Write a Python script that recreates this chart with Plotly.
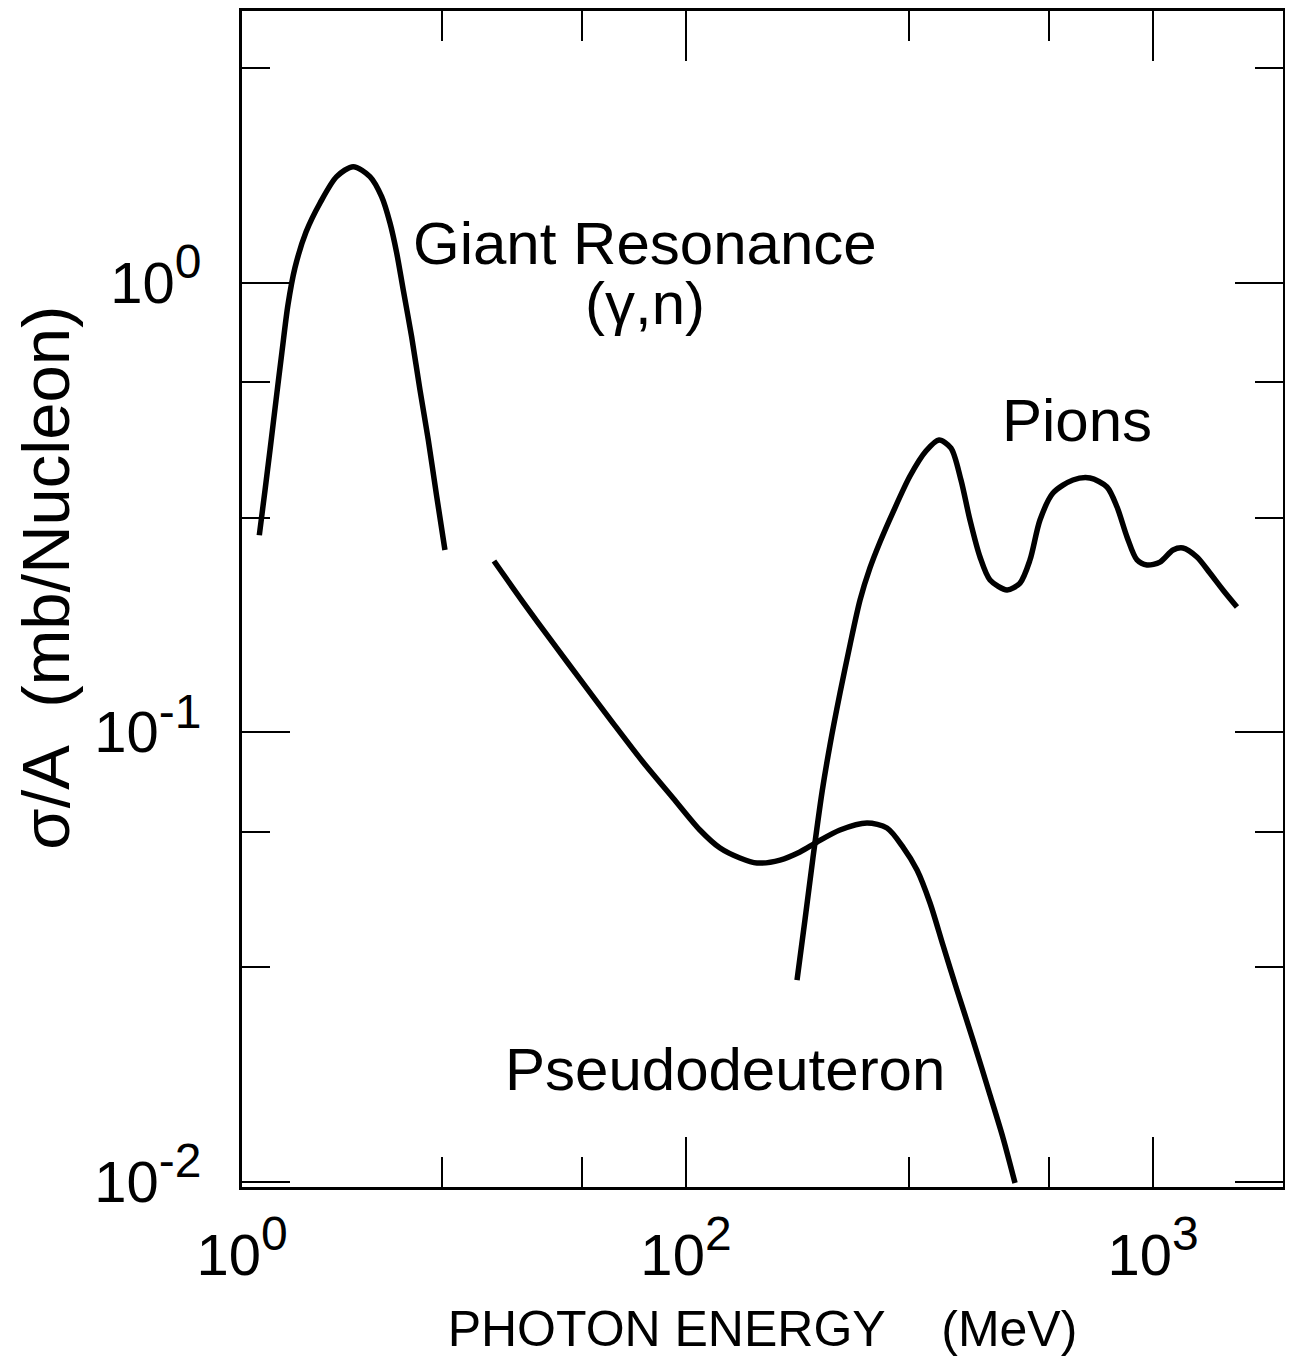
import plotly.graph_objects as go

# ---- data (photon energy in MeV, sigma/A in mb/nucleon) ----
giant_E = [12.2, 12.55, 12.86, 13.25, 13.64, 14.05, 14.54, 15.36, 16.46, 17.86, 19.39,
           21.05, 22.30, 23.24, 24.02, 24.81, 25.85, 26.94, 28.07, 29.26, 30.47]
giant_sigma = [0.274, 0.3454, 0.4239, 0.5478, 0.7005, 0.8911, 1.077, 1.295, 1.503, 1.72, 1.81,
               1.72, 1.552, 1.356, 1.163, 0.962, 0.758, 0.577, 0.446, 0.334, 0.254]

pseudo_E = [38.8, 44.77, 51.9, 60.17, 69.78, 80.89, 93.8, 107.1, 118.3, 130.5, 141.9,
            159.0, 175.4, 190.8, 213.7, 244.1, 269.4, 291.5, 312.4, 333.1, 355.0,
            380.4, 411.8, 447.7, 477.4, 506.5]
pseudo_sigma = [0.2401, 0.1946, 0.1578, 0.1285, 0.1047, 0.08576, 0.07133, 0.06053, 0.05519,
                0.05245, 0.05112, 0.0519, 0.05408, 0.05691, 0.06053, 0.06274, 0.06115,
                0.05547, 0.04932, 0.04165, 0.03358, 0.02667, 0.02064, 0.01558, 0.0125,
                0.009924]

pion_E = [172.9, 179.8, 187.0, 195.6, 203.4, 213.7, 224.5, 235.9, 247.7, 260.3, 277.6,
          301.8, 326.5, 348.2, 369.4, 388.0, 405.6, 426.2, 447.7, 486.9, 519.1, 545.3,
          572.8, 610.7, 674.1, 733.1, 797.1, 837.6, 879.8, 924.2, 970.9, 1035, 1104,
          1159, 1242, 1324, 1412, 1513]
pion_sigma = [0.02807, 0.03818, 0.05245, 0.07354, 0.09357, 0.1221, 0.1562, 0.1966, 0.2317,
              0.2647, 0.3086, 0.3711, 0.4218, 0.4463, 0.4283, 0.3636, 0.2962, 0.2451,
              0.2179, 0.2070, 0.2145, 0.2414, 0.2962, 0.3401, 0.3636, 0.3673, 0.3508,
              0.3166, 0.2716, 0.2414, 0.2352, 0.2388, 0.2541, 0.2567, 0.2451, 0.2258,
              0.2070, 0.1897]

SUP = '<sup><span style="font-size:48px">{}</span></sup>'
x_major_vals = [11.21, 100, 1000]
x_major_text = ["10" + SUP.format("0"), "10" + SUP.format("2"), "10" + SUP.format("3")]
x_minor_vals = [30, 60, 300, 600]
y_major_vals = [1, 0.1, 0.01]
y_major_text = ["10" + SUP.format("0"), "10" + SUP.format("-1"), "10" + SUP.format("-2")]
y_minor_vals = [3, 0.6, 0.3, 0.06, 0.03]

labels = ["Giant Resonance", "(\u03b3,n)", "Pions", "Pseudodeuteron"]
y_title = "\u03c3/A\u00a0\u00a0(mb/Nucleon)"
x_title = "PHOTON ENERGY\u00a0\u00a0\u00a0\u00a0(MeV)"

FONT = "Liberation Sans, Arial, Helvetica, sans-serif"
line_style = dict(color="black", width=5.5, shape="spline", smoothing=0.8)

fig = go.Figure()
for xs, ys in [(giant_E, giant_sigma), (pseudo_E, pseudo_sigma), (pion_E, pion_sigma)]:
    fig.add_trace(go.Scatter(x=xs, y=ys, mode="lines", line=line_style,
                             showlegend=False, hoverinfo="skip"))

axis_common = dict(
    showgrid=False, zeroline=False, showline=True, linecolor="black", linewidth=3,
    mirror="allticks", ticks="inside", tickcolor="black", tickwidth=2,
    tickmode="array", tickfont=dict(family=FONT, size=58, color="black"),
)

fig.update_xaxes(
    type="log", range=[1.0493, 3.2784],
    tickvals=x_major_vals, ticktext=x_major_text, ticklen=50,
    minor=dict(tickmode="array", tickvals=x_minor_vals, ticks="inside",
               ticklen=30, tickwidth=2, tickcolor="black"),
    title=dict(text=x_title, font=dict(family=FONT, size=50, color="black"), standoff=26),
    ticklabelstandoff=15,
    **axis_common,
)
fig.update_yaxes(
    type="log", range=[-2.0122, 0.604],
    tickvals=y_major_vals, ticktext=y_major_text, ticklen=48,
    minor=dict(tickmode="array", tickvals=y_minor_vals, ticks="inside",
               ticklen=28, tickwidth=2, tickcolor="black"),
    ticklabelstandoff=26,
    **axis_common,
)

# y-axis title placed as a rotated annotation (paper coordinates)
fig.add_annotation(text=y_title, x=-0.1885, y=0.5179, xref="paper", yref="paper",
                   textangle=-90, showarrow=False, xanchor="center", yanchor="middle",
                   font=dict(family=FONT, size=67, color="black"))

ann_font = dict(family=FONT, size=60, color="black")
ann_pos = [(0.3871, 0.8025), (0.3871, 0.7515), (0.8021, 0.6522), (0.464, 0.0995)]
for txt, (ax, ay) in zip(labels, ann_pos):
    fig.add_annotation(text=txt, x=ax, y=ay, xref="paper", yref="paper",
                       showarrow=False, font=ann_font, xanchor="center", yanchor="middle")

fig.update_layout(
    width=1277, height=1353,
    margin=dict(l=234, r=2, t=3, b=174, autoexpand=False),
    plot_bgcolor="white", paper_bgcolor="white",
    font=dict(family=FONT, color="black"),
)

fig.write_html("out.html")
